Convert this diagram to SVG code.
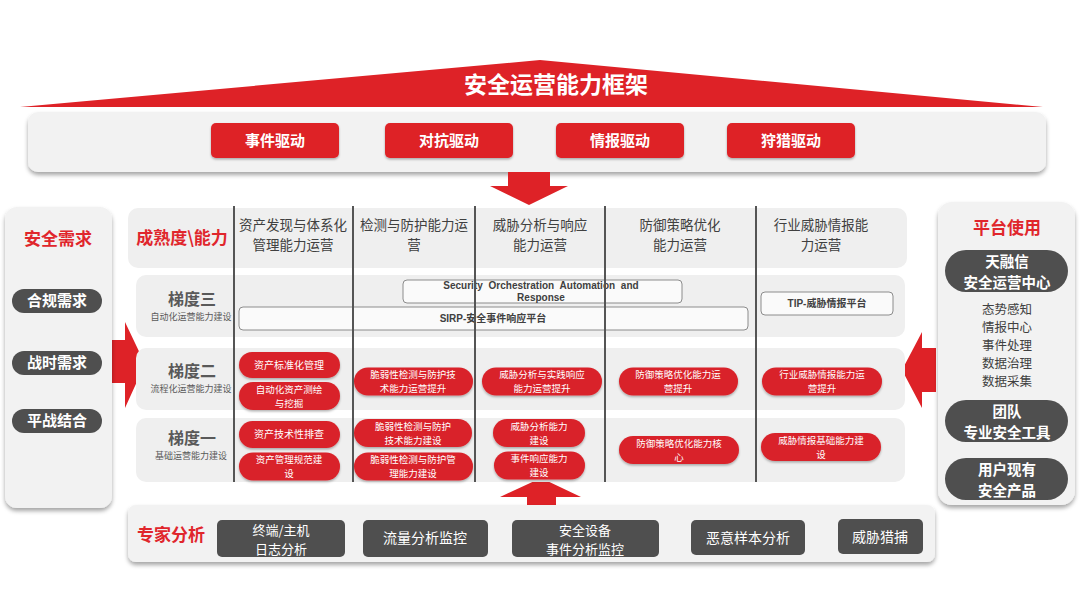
<svg xmlns="http://www.w3.org/2000/svg" width="1080" height="608" viewBox="0 0 1080 608">
<defs>
<filter id="sh" x="-5%" y="-10%" width="110%" height="125%"><feDropShadow dx="0" dy="3" stdDeviation="2" flood-color="#000" flood-opacity="0.35"/></filter>
<filter id="sh2" x="-10%" y="-20%" width="120%" height="150%"><feDropShadow dx="0" dy="1.5" stdDeviation="1" flood-color="#000" flood-opacity="0.3"/></filter>
<style>
text{font-family:"Noto Sans CJK SC","Noto Sans",sans-serif;text-anchor:middle}
.panel{fill:#f2f2f2}
.row{fill:#efefef}
.red{fill:#de2227}
.dark{fill:#4f4f4f}
.wb{fill:#fff;font-weight:bold}
.rt{fill:#e0262c;font-weight:bold}
.hd{fill:#404040;font-size:13.5px}
.lv{fill:#595959;font-size:16px;font-weight:bold}
.sub{fill:#595959;font-size:9px}
.pill{fill:#d9232a}
.pt{fill:#fff;font-size:10px}
.pt2{fill:#fff;font-size:9.5px}
.plat{fill:#fafafa;stroke:#8c8c8c;stroke-width:1}
.en{font-family:"Liberation Sans","Noto Sans CJK SC",sans-serif;font-weight:bold;font-size:10px;fill:#404040}
.div{stroke:#555;stroke-width:2}
.lst{fill:#404040;font-size:12.5px}
.bt{fill:#fff;font-size:14px}
.bt2{fill:#fff;font-size:13px}
</style>
</defs>
<rect width="1080" height="608" fill="#fff"/>

<g id="roof">
<polygon class="red" points="20,107 540,60 1043,107"/>
<text x="556" y="93" class="wb" font-size="23">安全运营能力框架</text>
</g>

<g id="drivers">
<rect x="28" y="112" width="1018" height="60" rx="10" class="panel" filter="url(#sh)"/>
<rect x="211" y="123" width="128" height="35" rx="5" class="red" filter="url(#sh2)"/>
<text x="275" y="146" class="wb" font-size="15">事件驱动</text>
<rect x="385" y="123" width="128" height="35" rx="5" class="red" filter="url(#sh2)"/>
<text x="449" y="146" class="wb" font-size="15">对抗驱动</text>
<rect x="556" y="123" width="128" height="35" rx="5" class="red" filter="url(#sh2)"/>
<text x="620" y="146" class="wb" font-size="15">情报驱动</text>
<rect x="727" y="123" width="128" height="35" rx="5" class="red" filter="url(#sh2)"/>
<text x="791" y="146" class="wb" font-size="15">狩猎驱动</text>
</g>

<g id="arrows">
<polygon class="red" points="508,172 550,172 550,186 568,186 529,205 490,186 508,186"/>
<polygon class="red" points="111,340 125,340 125,322 145,364 125,408 125,383 111,383"/>
<polygon class="red" points="936,348 922,348 922,332 902,370 922,408 922,392 936,392"/>
<polygon class="red" points="527,512 556,512 556,497 581,497 541,478 500,497 527,497"/>
</g>

<g id="header">
<rect x="128" y="208" width="779" height="60" rx="10" class="row"/>
<text x="182" y="244" class="rt" font-size="17">成熟度\能力</text>
<text class="hd"><tspan x="293" y="230">资产发现与体系化</tspan><tspan x="293" y="250">管理能力运营</tspan></text>
<text class="hd"><tspan x="414" y="230">检测与防护能力运</tspan><tspan x="414" y="250">营</tspan></text>
<text class="hd"><tspan x="540" y="230">威胁分析与响应</tspan><tspan x="540" y="250">能力运营</tspan></text>
<text class="hd"><tspan x="680" y="230">防御策略优化</tspan><tspan x="680" y="250">能力运营</tspan></text>
<text class="hd"><tspan x="821" y="230">行业威胁情报能</tspan><tspan x="821" y="250">力运营</tspan></text>
</g>

<g id="level3">
<rect x="136" y="275" width="769" height="62" rx="10" class="row"/>
<text x="192" y="305" class="lv">梯度三</text>
<text x="191" y="320" class="sub">自动化运营能力建设</text>
<rect x="403" y="280" width="279" height="23" rx="4" class="plat"/>
<text class="en"><tspan x="541" y="289" word-spacing="3">Security Orchestration Automation and</tspan><tspan x="541" y="301">Response</tspan></text>
<rect x="239" y="307" width="509" height="23" rx="4" class="plat"/>
<text x="493" y="322" class="en">SIRP-安全事件响应平台</text>
<rect x="761" y="292" width="132" height="23" rx="4" class="plat"/>
<text x="827" y="307" class="en">TIP-威胁情报平台</text>
</g>

<g id="level2">
<rect x="136" y="348" width="769" height="62" rx="10" class="row"/>
<text x="192" y="377" class="lv">梯度二</text>
<text x="191" y="392" class="sub">流程化运营能力建设</text>
<rect x="239" y="352" width="101" height="26" rx="13" class="pill" filter="url(#sh2)"/>
<text x="289" y="369" class="pt">资产标准化管理</text>
<rect x="239" y="382" width="101" height="28" rx="14" class="pill" filter="url(#sh2)"/>
<text class="pt2"><tspan x="289" y="392.5">自动化资产测绘</tspan><tspan x="289" y="406.5">与挖掘</tspan></text>
<rect x="354" y="367.5" width="119" height="28" rx="14" class="pill" filter="url(#sh2)"/>
<text class="pt2"><tspan x="413" y="378">脆弱性检测与防护技</tspan><tspan x="413" y="392">术能力运营提升</tspan></text>
<rect x="482" y="367.5" width="120" height="28" rx="14" class="pill" filter="url(#sh2)"/>
<text class="pt2"><tspan x="542" y="378">威胁分析与实践响应</tspan><tspan x="542" y="392">能力运营提升</tspan></text>
<rect x="619" y="367.5" width="119" height="28" rx="14" class="pill" filter="url(#sh2)"/>
<text class="pt2"><tspan x="678" y="378">防御策略优化能力运</tspan><tspan x="678" y="392">营提升</tspan></text>
<rect x="762" y="367.5" width="120" height="28" rx="14" class="pill" filter="url(#sh2)"/>
<text class="pt2"><tspan x="822" y="378">行业威胁情报能力运</tspan><tspan x="822" y="392">营提升</tspan></text>
</g>

<g id="level1">
<rect x="136" y="418" width="769" height="64" rx="10" class="row"/>
<text x="192" y="444" class="lv">梯度一</text>
<text x="191" y="459" class="sub">基础运营能力建设</text>
<rect x="239" y="421" width="101" height="27" rx="13.5" class="pill" filter="url(#sh2)"/>
<text x="289" y="438" class="pt">资产技术性排查</text>
<rect x="239" y="452.5" width="101" height="28" rx="14" class="pill" filter="url(#sh2)"/>
<text class="pt2"><tspan x="289" y="463">资产管理规范建</tspan><tspan x="289" y="477">设</tspan></text>
<rect x="354" y="419" width="118" height="28" rx="14" class="pill" filter="url(#sh2)"/>
<text class="pt2"><tspan x="413" y="429.5">脆弱性检测与防护</tspan><tspan x="413" y="443.5">技术能力建设</tspan></text>
<rect x="354" y="452.5" width="119" height="28" rx="14" class="pill" filter="url(#sh2)"/>
<text class="pt2"><tspan x="413" y="463">脆弱性检测与防护管</tspan><tspan x="413" y="477">理能力建设</tspan></text>
<rect x="493" y="419" width="92" height="28" rx="14" class="pill" filter="url(#sh2)"/>
<text class="pt2"><tspan x="539" y="429.5">威胁分析能力</tspan><tspan x="539" y="443.5">建设</tspan></text>
<rect x="494" y="451.5" width="91" height="28" rx="14" class="pill" filter="url(#sh2)"/>
<text class="pt2"><tspan x="539" y="462">事件响应能力</tspan><tspan x="539" y="476">建设</tspan></text>
<rect x="619" y="436" width="120" height="28" rx="14" class="pill" filter="url(#sh2)"/>
<text class="pt2"><tspan x="679" y="446.5">防御策略优化能力核</tspan><tspan x="679" y="460.5">心</tspan></text>
<rect x="761" y="433" width="120" height="28" rx="14" class="pill" filter="url(#sh2)"/>
<text class="pt2"><tspan x="821" y="443.5">威胁情报基础能力建</tspan><tspan x="821" y="457.5">设</tspan></text>
</g>

<g id="dividers">
<line x1="234" y1="206" x2="234" y2="482" class="div"/>
<line x1="353" y1="206" x2="353" y2="482" class="div"/>
<line x1="475" y1="206" x2="475" y2="482" class="div"/>
<line x1="605" y1="206" x2="605" y2="482" class="div"/>
<line x1="756" y1="206" x2="756" y2="482" class="div"/>
</g>

<g id="demand">
<rect x="5" y="207" width="107" height="301" rx="12" class="panel" filter="url(#sh)"/>
<text x="58" y="245" class="rt" font-size="17">安全需求</text>
<rect x="12" y="289" width="90" height="24" rx="12" class="dark"/>
<text x="57" y="306" class="wb" font-size="15">合规需求</text>
<rect x="12" y="351" width="90" height="24" rx="12" class="dark"/>
<text x="57" y="368" class="wb" font-size="15">战时需求</text>
<rect x="12" y="409" width="90" height="24" rx="12" class="dark"/>
<text x="57" y="426" class="wb" font-size="15">平战结合</text>
</g>

<g id="platform">
<rect x="938" y="202" width="137" height="303" rx="14" class="panel" filter="url(#sh)"/>
<text x="1007" y="234" class="rt" font-size="17">平台使用</text>
<rect x="945" y="250" width="123" height="42" rx="21" class="dark"/>
<text class="wb" font-size="14.5"><tspan x="1007" y="266.5">天融信</tspan><tspan x="1007" y="287.5">安全运营中心</tspan></text>
<text class="lst"><tspan x="1007" y="314">态势感知</tspan><tspan x="1007" y="332">情报中心</tspan><tspan x="1007" y="350">事件处理</tspan><tspan x="1007" y="368">数据治理</tspan><tspan x="1007" y="386">数据采集</tspan></text>
<rect x="945" y="400" width="123" height="42" rx="21" class="dark"/>
<text class="wb" font-size="14.5"><tspan x="1007" y="416.5">团队</tspan><tspan x="1007" y="437.5">专业安全工具</tspan></text>
<rect x="945" y="458" width="123" height="42" rx="21" class="dark"/>
<text class="wb" font-size="14.5"><tspan x="1007" y="474.5">用户现有</tspan><tspan x="1007" y="495.5">安全产品</tspan></text>
</g>

<g id="expert">
<rect x="128" y="505" width="807" height="57" rx="8" class="panel" filter="url(#sh)"/>
<text x="171" y="541" class="rt" font-size="17">专家分析</text>
<rect x="217" y="520" width="128" height="37" rx="5" class="dark"/>
<text class="bt2"><tspan x="281" y="534.5">终端/主机</tspan><tspan x="281" y="553.5">日志分析</tspan></text>
<rect x="363" y="520" width="125" height="37" rx="5" class="dark"/>
<text x="425" y="543" class="bt">流量分析监控</text>
<rect x="512" y="520" width="147" height="37" rx="5" class="dark"/>
<text class="bt2"><tspan x="585" y="534.5">安全设备</tspan><tspan x="585" y="553.5">事件分析监控</tspan></text>
<rect x="691" y="520" width="114" height="35" rx="5" class="dark"/>
<text x="748" y="543" class="bt">恶意样本分析</text>
<rect x="838" y="519" width="85" height="35" rx="5" class="dark"/>
<text x="880" y="542" class="bt">威胁猎捕</text>
</g>
</svg>
